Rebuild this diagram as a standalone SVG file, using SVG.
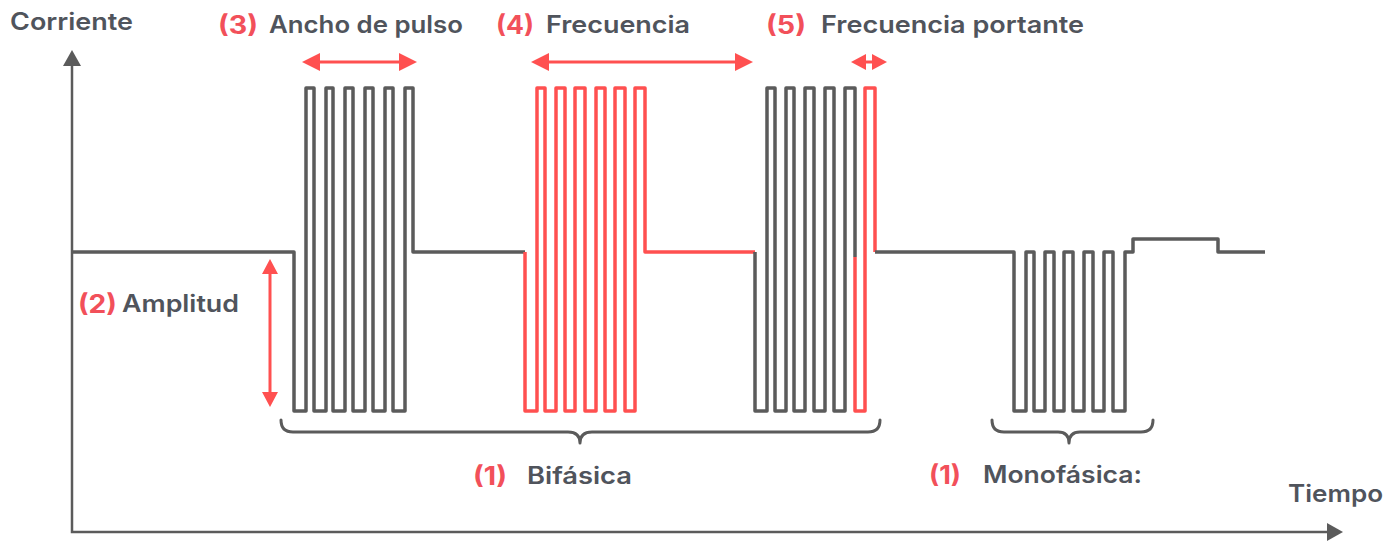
<svg xmlns="http://www.w3.org/2000/svg" width="1393" height="543" viewBox="0 0 1393 543">
<style>
.g{fill:none;stroke:#5b5b5b;stroke-width:3.5;stroke-linejoin:round}
.r{fill:none;stroke:#ff5050;stroke-width:3.5;stroke-linejoin:round}
.ax{fill:none;stroke:#5b5b5b;stroke-width:2.5}
.ra{fill:none;stroke:#ff5050;stroke-width:3}
.rh{fill:#ff5050}
.gh{fill:#5b5b5b}
.br{fill:none;stroke:#5b5b5b;stroke-width:3;stroke-linecap:round;stroke-linejoin:round}
text{font-family:Inter,"Noto Sans","Liberation Sans",sans-serif;font-size:24px;font-weight:600;fill:#50545c}
.n{fill:#f2505a;font-weight:700;font-size:25px}
</style>
<g id="axes">
<path class="ax" d="M72 62 V532 H1330"/>
<polygon class="gh" points="72,50 63,66 81,66"/>
<polygon class="gh" points="1343,532 1327,523 1327,541"/>
</g>
<g id="waveform">
<path class="g" d="M72 252 H294 V411 H306 V88 H314 V411 H326 V88 H333 V411 H345 V88 H353 V411 H365 V88 H373 V411 H385 V88 H393 V411 H405 V88 H413 V252 H525"/>
<path class="r" d="M525 252 V411 H537 V88 H545 V411 H556 V88 H565 V411 H575 V88 H585 V411 H596 V88 H605 V411 H615 V88 H625 V411 H635 V88 H645 V252 H755"/>
<path class="g" d="M755 252 V411 H767 V88 H775 V411 H786 V88 H794 V411 H805 V88 H814 V411 H825 V88 H834 V411 H845 V88 H855 V257"/>
<path class="r" d="M855 257 V411 H865 V88 H875 V252"/>
<path class="g" d="M875 252 H1014 V411 H1026 V252 H1034 V411 H1045 V252 H1054 V411 H1064 V252 H1073 V411 H1084 V252 H1093 V411 H1104 V252 H1113 V411 H1125 V252 H1133 V239 H1218 V252 H1265"/>
</g>
<g id="connectors">
<line class="ra" x1="316" y1="62" x2="403" y2="62"/>
<polygon class="rh" points="302,62 320,53 320,71"/>
<polygon class="rh" points="417,62 399,53 399,71"/>
<line class="ra" x1="545" y1="62" x2="739" y2="62"/>
<polygon class="rh" points="531,62 549,53 549,71"/>
<polygon class="rh" points="753,62 735,53 735,71"/>
<line class="ra" x1="862" y1="62" x2="876" y2="62"/>
<polygon class="rh" points="851,62 866,54 866,70"/>
<polygon class="rh" points="887,62 872,54 872,70"/>
<line class="ra" x1="270" y1="270" x2="270" y2="396"/>
<polygon class="rh" points="270,259 262,274 278,274"/>
<polygon class="rh" points="270,407 262,392 278,392"/>
<path class="br" d="M281 420 Q281 432 293 432 H568 Q580 432 580 443 Q580 432 592 432 H868 Q880 432 880 420"/>
<path class="br" d="M992 420 Q992 432 1004 432 H1058 Q1069 432 1069 443 Q1069 432 1080 432 H1141 Q1153 432 1153 420"/>
</g>
<g id="label-corriente"><text x="10" y="30" textLength="123" lengthAdjust="spacingAndGlyphs">Corriente</text></g>
<g id="label-ancho"><text class="n" x="218" y="34" textLength="40" lengthAdjust="spacingAndGlyphs">(3)</text><text x="269" y="33" textLength="194" lengthAdjust="spacingAndGlyphs">Ancho de pulso</text></g>
<g id="label-frecuencia"><text class="n" x="496" y="34" textLength="38" lengthAdjust="spacingAndGlyphs">(4)</text><text x="546" y="33" textLength="144" lengthAdjust="spacingAndGlyphs">Frecuencia</text></g>
<g id="label-portante"><text class="n" x="766" y="34" textLength="40" lengthAdjust="spacingAndGlyphs">(5)</text><text x="821" y="33" textLength="263" lengthAdjust="spacingAndGlyphs">Frecuencia portante</text></g>
<g id="label-amplitud"><text class="n" x="78" y="313" textLength="39" lengthAdjust="spacingAndGlyphs">(2)</text><text x="122" y="312" textLength="117" lengthAdjust="spacingAndGlyphs">Amplitud</text></g>
<g id="label-bifasica"><text class="n" x="473" y="485" textLength="34" lengthAdjust="spacingAndGlyphs">(1)</text><text x="527" y="484" textLength="105" lengthAdjust="spacingAndGlyphs">Bifásica</text></g>
<g id="label-monofasica"><text class="n" x="929" y="484" textLength="32" lengthAdjust="spacingAndGlyphs">(1)</text><text x="983" y="483" textLength="159" lengthAdjust="spacingAndGlyphs">Monofásica:</text></g>
<g id="label-tiempo"><text x="1288" y="502" textLength="95" lengthAdjust="spacingAndGlyphs">Tiempo</text></g>
</svg>
